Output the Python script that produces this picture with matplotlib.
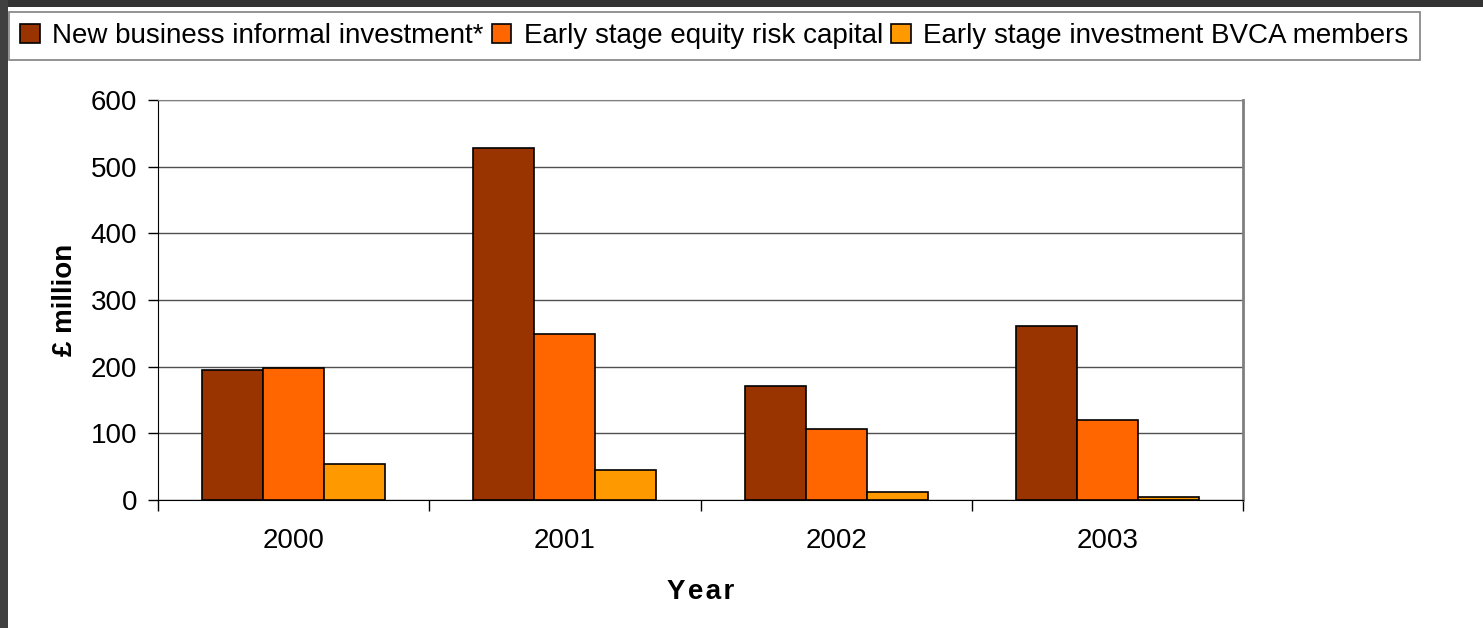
import numpy as np
import matplotlib.pyplot as plt
from matplotlib.patches import Rectangle

years = ["2000", "2001", "2002", "2003"]
series_names = ["New business informal investment*",
                "Early stage equity risk capital",
                "Early stage investment BVCA members"]
informal = [195, 528, 171, 261]
equity_risk = [198, 249, 106, 120]
bvca = [54, 45, 12, 5]
colours = ["#993300", "#FF6600", "#FF9900"]

plt.rcParams['font.family'] = ['Liberation Sans', 'DejaVu Sans']

W, H = 1483, 628
fig = plt.figure(figsize=(W / 100, H / 100), dpi=100)

# dark frame strips along top and left edges
fig.patches.append(Rectangle((0, 1 - 7 / H), 1, 7 / H, transform=fig.transFigure,
                             facecolor="#333333", edgecolor="none", zorder=0))
fig.patches.append(Rectangle((0, 0), 8 / W, 1, transform=fig.transFigure,
                             facecolor="#404040", edgecolor="none", zorder=0))

ax = fig.add_axes([158 / W, 1 - 500 / H, (1243 - 158) / W, 400 / H])

x = np.arange(len(years))
bw = 0.225
for i, vals in enumerate([informal, equity_risk, bvca]):
    ax.bar(x + (i - 1) * bw, vals, width=bw, color=colours[i],
           edgecolor="black", linewidth=1.2, label=series_names[i], zorder=3)

ax.set_xlim(-0.5, len(years) - 0.5)
ax.set_ylim(0, 600)
ax.set_yticks(np.arange(0, 601, 100))
ax.yaxis.grid(True, color="#505050", linewidth=1)
ax.set_axisbelow(True)

ax.set_xticks(np.arange(-0.5, len(years), 1))
ax.set_xticklabels([])
ax.set_xticks(x, minor=True)
ax.set_xticklabels(years, minor=True)
ax.tick_params(axis="x", which="major", length=8, width=1, direction="out")
ax.tick_params(axis="x", which="minor", length=0, pad=20, labelsize=20)
ax.tick_params(axis="y", length=7, width=1, direction="out", labelsize=20, pad=8)

for side in ["top", "right"]:
    ax.spines[side].set_color("#808080")
ax.spines["right"].set_linewidth(2)
ax.spines["left"].set_color("black")
ax.spines["bottom"].set_color("black")

ax.set_ylabel("£ million", fontsize=20, fontweight="bold", labelpad=9)
ax.set_xlabel("Y\u200ae\u200aa\u200ar", fontsize=20, fontweight="bold", labelpad=18)

leg = fig.legend(loc="upper left", bbox_to_anchor=(9 / W, 1 - 12 / H), ncol=3,
                 fontsize=20, frameon=True, fancybox=False, edgecolor="#606060",
                 handlelength=0.7, handleheight=0.7, handletextpad=0.45,
                 columnspacing=0.3, borderpad=0.4, borderaxespad=0)
leg.get_frame().set_linewidth(1.2)

fig.savefig("out.png", dpi=100)
